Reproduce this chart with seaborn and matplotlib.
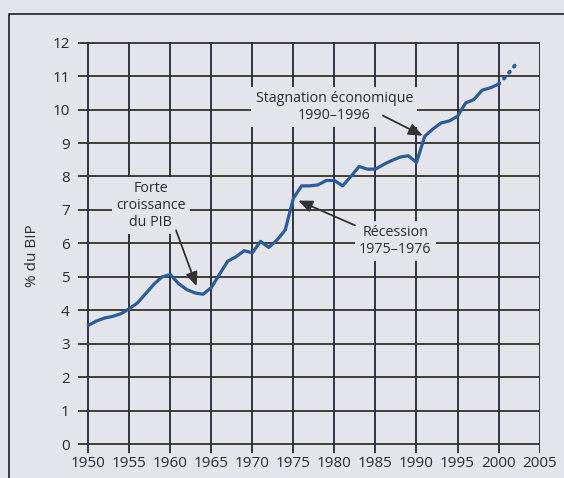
import matplotlib
matplotlib.use("Agg")
import matplotlib.pyplot as plt
import pandas as pd
import seaborn as sns
from matplotlib.lines import Line2D

# Dépenses en % du BIP
years = list(range(1950, 2001))
values = [3.55, 3.68, 3.77, 3.82, 3.90,
          4.05, 4.22, 4.50, 4.78, 5.00,
          5.07, 4.80, 4.62, 4.52, 4.48,
          4.68, 5.08, 5.47, 5.60, 5.78,
          5.72, 6.06, 5.88, 6.10, 6.40,
          7.35, 7.72, 7.72, 7.75, 7.88,
          7.88, 7.72, 8.00, 8.30, 8.22,
          8.22, 8.36, 8.48, 8.58, 8.62,
          8.42, 9.20, 9.42, 9.60, 9.66,
          9.80, 10.20, 10.30, 10.58, 10.65,
          10.76]
# prolongation en pointillé
ext_years = [2000, 2001, 2002]
ext_values = [10.76, 11.02, 11.32]

x_ticks = list(range(1950, 2006, 5))
y_ticks = list(range(0, 13))

bg = "#e3e5eb"
ink = "#2c2c2c"
blue = "#2a5b9b"

sns.set_style("white")
plt.rcParams["font.family"] = ["Open Sans", "DejaVu Sans"]

df = pd.DataFrame({"year": years, "value": values})
df_ext = pd.DataFrame({"year": ext_years, "value": ext_values})

fig = plt.figure(figsize=(5.64, 4.78), dpi=100, facecolor=bg)
ax = fig.add_axes([78 / 564, 1 - 452.5 / 478, 462 / 564, 410.5 / 478])
ax.set_facecolor(bg)

sns.lineplot(data=df, x="year", y="value", ax=ax, color=blue, lw=2.3, zorder=5)
sns.lineplot(data=df_ext, x="year", y="value", ax=ax, color=blue, lw=2.8,
             linestyle=(0, (0.3, 1.7)), dash_capstyle="round", zorder=5)

ax.set_xlim(1948.75, 2005.05)
ax.set_ylim(-0.25, 12.02)
ax.set_xticks(x_ticks)
ax.set_yticks(y_ticks)
ax.tick_params(axis="both", length=0, labelsize=11, colors=ink)
ax.tick_params(axis="x", pad=2.5)
ax.tick_params(axis="y", pad=6)
for sp in ax.spines.values():
    sp.set_visible(False)

ax.grid(False)
for y in y_ticks:
    ax.axhline(y, color="#3b3831", lw=1.35, zorder=1)
for x in x_ticks:
    ax.axvline(x, color="#2b2e38", lw=1.35, zorder=1)

ax.set_xlabel("")
ax.set_ylabel("% du BIP", fontsize=11, color=ink)
ax.yaxis.set_label_coords(-0.082, 0.48)

box = dict(boxstyle="square,pad=0.3", facecolor=bg, edgecolor="none")
txt = dict(fontsize=10.3, color=ink, ha="center", va="center",
           linespacing=1.15, zorder=6, bbox=box)
ax.text(1957.6, 7.13, "Forte\ncroissance\ndu PIB", **txt)
ax.text(1980.0, 10.07, "Stagnation économique\n1990–1996", **txt)
ax.text(1987.4, 6.07, "Récession\n1975–1976", **txt)

arrow = dict(arrowstyle="-|>,head_length=0.7,head_width=0.3", color="#333333",
             lw=1.3, shrinkA=0, shrinkB=0, mutation_scale=12)
ax.annotate("", xy=(1963.2, 4.72), xytext=(1960.7, 6.39), arrowprops=arrow, zorder=6)
ax.annotate("", xy=(1975.6, 7.28), xytext=(1982.5, 6.54), arrowprops=arrow, zorder=6)
ax.annotate("", xy=(1990.75, 9.22), xytext=(1985.9, 9.82), arrowprops=arrow, zorder=6)

# cadre extérieur (gauche et haut)
fx, fy = 9 / 564, 1 - 14 / 478
fig.add_artist(Line2D([fx, fx, 1.0], [0.0, fy, fy], color="#2e2e2e", lw=1.3))

fig.savefig("out.png", dpi=100, facecolor=bg)
